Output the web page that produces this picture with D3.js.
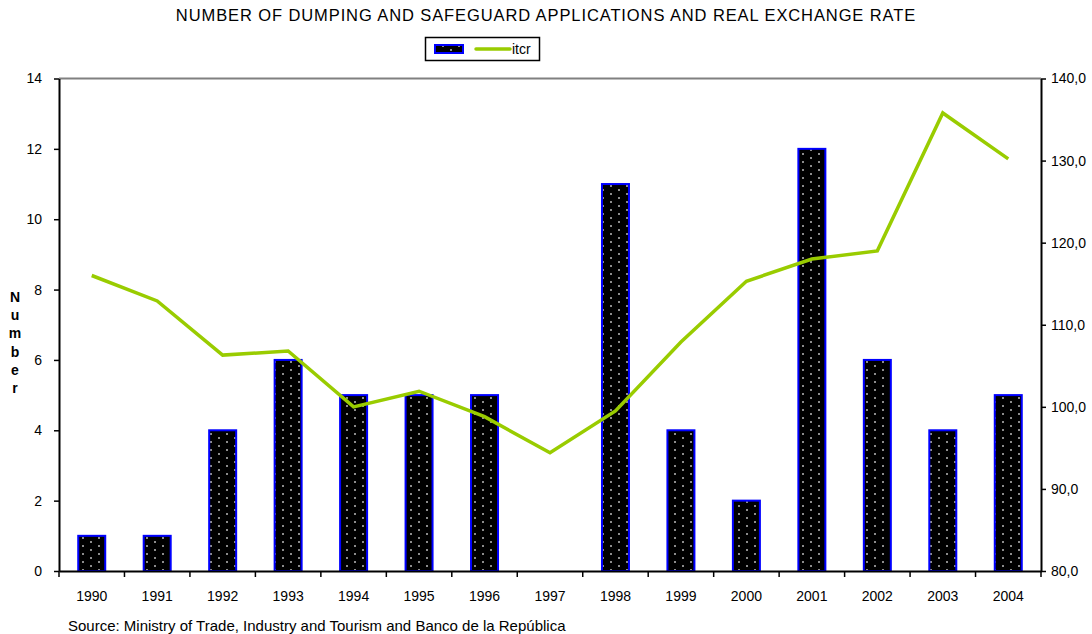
<!DOCTYPE html>
<html>
<head>
<meta charset="utf-8">
<script src="https://cdn.jsdelivr.net/npm/d3@7"></script>
<style>
  body { margin: 0; background: #fff; }
  text { font-family: "Liberation Sans", Arial, sans-serif; }
</style>
</head>
<body>
<div id="chart"></div>
<script>
var years = ["1990","1991","1992","1993","1994","1995","1996","1997","1998","1999","2000","2001","2002","2003","2004"]
var applications = [1, 1, 4, 6, 5, 5, 5, 0, 11, 4, 2, 12, 6, 4, 5]
var itcr = [116.0, 112.9, 106.3, 106.8, 100.0, 101.9, 98.8, 94.4, 99.5, 107.9, 115.3, 118.0, 119.0, 135.8, 130.2]
var leftTicks = [0, 2, 4, 6, 8, 10, 12, 14]
var rightTicks = [80, 90, 100, 110, 120, 130, 140]

var W = 1092, H = 634
var plotL = 59, plotR = 1041, plotT = 78.5, plotB = 571

var svg = d3.select("#chart").append("svg")
  .attr("width", W)
  .attr("height", H)

// dotted fill for the bars
var defs = svg.append("defs")
var pat = defs.append("pattern")
  .attr("id", "dots")
  .attr("patternUnits", "userSpaceOnUse")
  .attr("width", 16)
  .attr("height", 8)
pat.append("rect").attr("width", 16).attr("height", 8).attr("fill", "#000")
pat.append("rect").attr("x", 2).attr("y", 1).attr("width", 2).attr("height", 2).attr("fill", "#8c8c8c")
pat.append("rect").attr("x", 10).attr("y", 5).attr("width", 2).attr("height", 2).attr("fill", "#8c8c8c")

var x = d3.scaleBand().domain(years).range([plotL, plotR]).paddingInner(0).paddingOuter(0)
var yL = d3.scaleLinear().domain([0, 14]).range([plotB, plotT])
var yR = d3.scaleLinear().domain([80, 140]).range([plotB, plotT])

// title
svg.append("text")
  .attr("x", 546)
  .attr("y", 21)
  .attr("text-anchor", "middle")
  .style("font-size", "16.5px")
  .style("letter-spacing", "0.9px")
  .text("NUMBER OF DUMPING AND SAFEGUARD APPLICATIONS AND REAL EXCHANGE RATE")

// legend
var lg = svg.append("g")
lg.append("rect").attr("x", 425.5).attr("y", 37.5).attr("width", 114).attr("height", 23)
  .attr("fill", "#fff").attr("stroke", "#000").attr("stroke-width", 1.5)
lg.append("rect").attr("x", 435).attr("y", 45).attr("width", 28).attr("height", 8)
  .attr("fill", "url(#dots)").attr("stroke", "#0000ff").attr("stroke-width", 2)
lg.append("line").attr("x1", 476).attr("x2", 510).attr("y1", 49).attr("y2", 49)
  .attr("stroke", "#99cc00").attr("stroke-width", 3.5).attr("stroke-linecap", "round")
lg.append("text").attr("x", 512).attr("y", 54).style("font-size", "14px").text("itcr")

// top frame line
svg.append("line")
  .attr("x1", plotL).attr("x2", plotR).attr("y1", plotT).attr("y2", plotT)
  .attr("stroke", "#808080").attr("stroke-width", 2)

// bars
var bw = 27
svg.selectAll(".bar").data(years).enter().append("rect")
  .attr("class", "bar")
  .attr("x", d => x(d) + x.bandwidth() / 2 - bw / 2)
  .attr("y", (d, i) => yL(applications[i]))
  .attr("width", bw)
  .attr("height", (d, i) => yL(0) - yL(applications[i]))
  .attr("fill", "url(#dots)")
  .attr("stroke", (d, i) => applications[i] > 0 ? "#0000ff" : "none")
  .attr("stroke-width", 2)

// line
var line = d3.line()
  .x((d, i) => x(years[i]) + x.bandwidth() / 2)
  .y(d => yR(d))
svg.append("path")
  .datum(itcr)
  .attr("d", line)
  .attr("fill", "none")
  .attr("stroke", "#99cc00")
  .attr("stroke-width", 3.5)
  .attr("stroke-linejoin", "miter")

// left axis
var gL = svg.append("g").attr("transform", "translate(" + plotL + ",0)")
  .call(d3.axisLeft(yL).tickValues(leftTicks).tickSizeInner(5).tickSizeOuter(0).tickPadding(12).tickFormat(d3.format("d")))
gL.select(".domain").attr("stroke-width", 2)
gL.selectAll(".tick line").attr("stroke-width", 1.5)
gL.selectAll("text").style("font-size", "14px").attr("font-family", "Liberation Sans, Arial, sans-serif")

// right axis
var gR = svg.append("g").attr("transform", "translate(" + plotR + ",0)")
  .call(d3.axisRight(yR).tickValues(rightTicks).tickSizeInner(5).tickSizeOuter(0).tickPadding(5).tickFormat(d => d3.format(".1f")(d).replace(".", ",")))
gR.select(".domain").attr("stroke-width", 2)
gR.selectAll(".tick line").attr("stroke-width", 1.5)
gR.selectAll("text").style("font-size", "14px").attr("font-family", "Liberation Sans, Arial, sans-serif")

// x axis
var gX = svg.append("g").attr("transform", "translate(0," + plotB + ")")
  .call(d3.axisBottom(x).tickSize(0).tickPadding(20))
gX.select(".domain").attr("stroke-width", 2)
gX.selectAll("text").style("font-size", "14px").attr("font-family", "Liberation Sans, Arial, sans-serif")
// ticks between categories
var bounds = years.map(d => x(d)).concat([plotR])
svg.selectAll(".xtick").data(bounds).enter().append("line")
  .attr("x1", d => d).attr("x2", d => d)
  .attr("y1", plotB).attr("y2", plotB + 6)
  .attr("stroke", "#000").attr("stroke-width", 1.5)

// y label, stacked letters
var ylab = "Number".split("")
svg.selectAll(".ylab").data(ylab).enter().append("text")
  .attr("x", 15)
  .attr("y", (d, i) => 302 + i * 18.2)
  .attr("text-anchor", "middle")
  .style("font-size", "14px")
  .style("font-weight", "bold")
  .text(d => d)

// source
svg.append("text")
  .attr("x", 68)
  .attr("y", 631)
  .style("font-size", "15px")
  .text("Source: Ministry of Trade, Industry and Tourism and Banco de la República")
</script>
</body>
</html>
